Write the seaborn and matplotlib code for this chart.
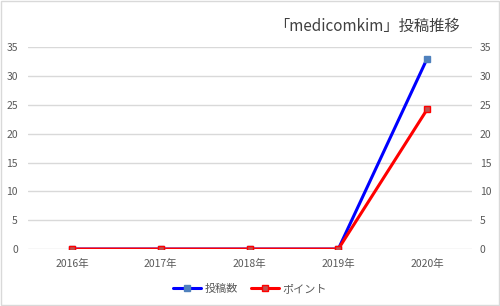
import matplotlib
matplotlib.use("Agg")
import matplotlib.pyplot as plt
import seaborn as sns
import pandas as pd

years = ["2016年", "2017年", "2018年", "2019年", "2020年"]
posts = [0, 0, 0, 0, 33]
points = [0, 0, 0, 0, 24.2]
series_names = ["投稿数", "ポイント"]
title = "「medicomkim」投稿推移"

sns.set_theme(style="white")
plt.rcParams['font.family'] = ['Noto Sans CJK JP', 'DejaVu Sans']

df = pd.DataFrame({
    "year": years * 2,
    "value": posts + points,
    "series": [series_names[0]] * len(years) + [series_names[1]] * len(years),
})

fig = plt.figure(figsize=(5, 3.06), dpi=100)
ax = fig.add_axes([0.055, 0.186, 0.888, 0.66])

palette = {series_names[0]: "#0000ff", series_names[1]: "#ff0000"}
sns.lineplot(data=df, x="year", y="value", hue="series", palette=palette,
             ax=ax, linewidth=2.2, sort=False, legend=False)

# markers
mk_face = {series_names[0]: "#4f81bd", series_names[1]: "#c0504d"}
mk_edge = {series_names[0]: "#4f81bd", series_names[1]: "#ff0000"}
for s in series_names:
    sub = df[df.series == s]
    ax.plot(sub["year"], sub["value"], linestyle="none", marker="s", markersize=5,
            markerfacecolor=mk_face[s], markeredgecolor=mk_edge[s], markeredgewidth=1)

ax.set_xlim(-0.5, len(years) - 0.5)
ax.set_ylim(0, 35)
ax.set_yticks(range(0, 36, 5))
ax.grid(axis="y", color="#d9d9d9", linewidth=1)
ax.set_axisbelow(True)
for sp in ax.spines.values():
    sp.set_visible(False)
ax.set_xlabel("")
ax.set_ylabel("")
ax.tick_params(axis="both", length=0, labelsize=7.5, colors="#595959")
ax.tick_params(axis="x", pad=7)
ax.tick_params(axis="y", pad=7)

ax2 = ax.twinx()
ax2.set_ylim(0, 35)
ax2.set_yticks(range(0, 36, 5))
for sp in ax2.spines.values():
    sp.set_visible(False)
ax2.tick_params(axis="y", length=0, labelsize=7.5, colors="#595959", pad=6)

fig.text(0.92, 0.915, title, ha="right", va="center", fontsize=11, color="#404040")

from matplotlib.lines import Line2D
handles = [Line2D([], [], color=palette[s], linewidth=2.2, marker="s", markersize=5,
                  markerfacecolor=mk_face[s], markeredgecolor=mk_edge[s]) for s in series_names]
fig.legend(handles, series_names, loc="center", bbox_to_anchor=(0.5, 0.055), ncol=2,
           frameon=False, fontsize=8, labelcolor="#595959", handlelength=2.5,
           columnspacing=1.2, handletextpad=0.3)

border = plt.Rectangle((0.002, 0.002), 0.996, 0.996, transform=fig.transFigure,
                       fill=False, edgecolor="#d9d9d9", linewidth=1)
fig.patches.append(border)

fig.savefig("out.png", dpi=100, facecolor="white")
